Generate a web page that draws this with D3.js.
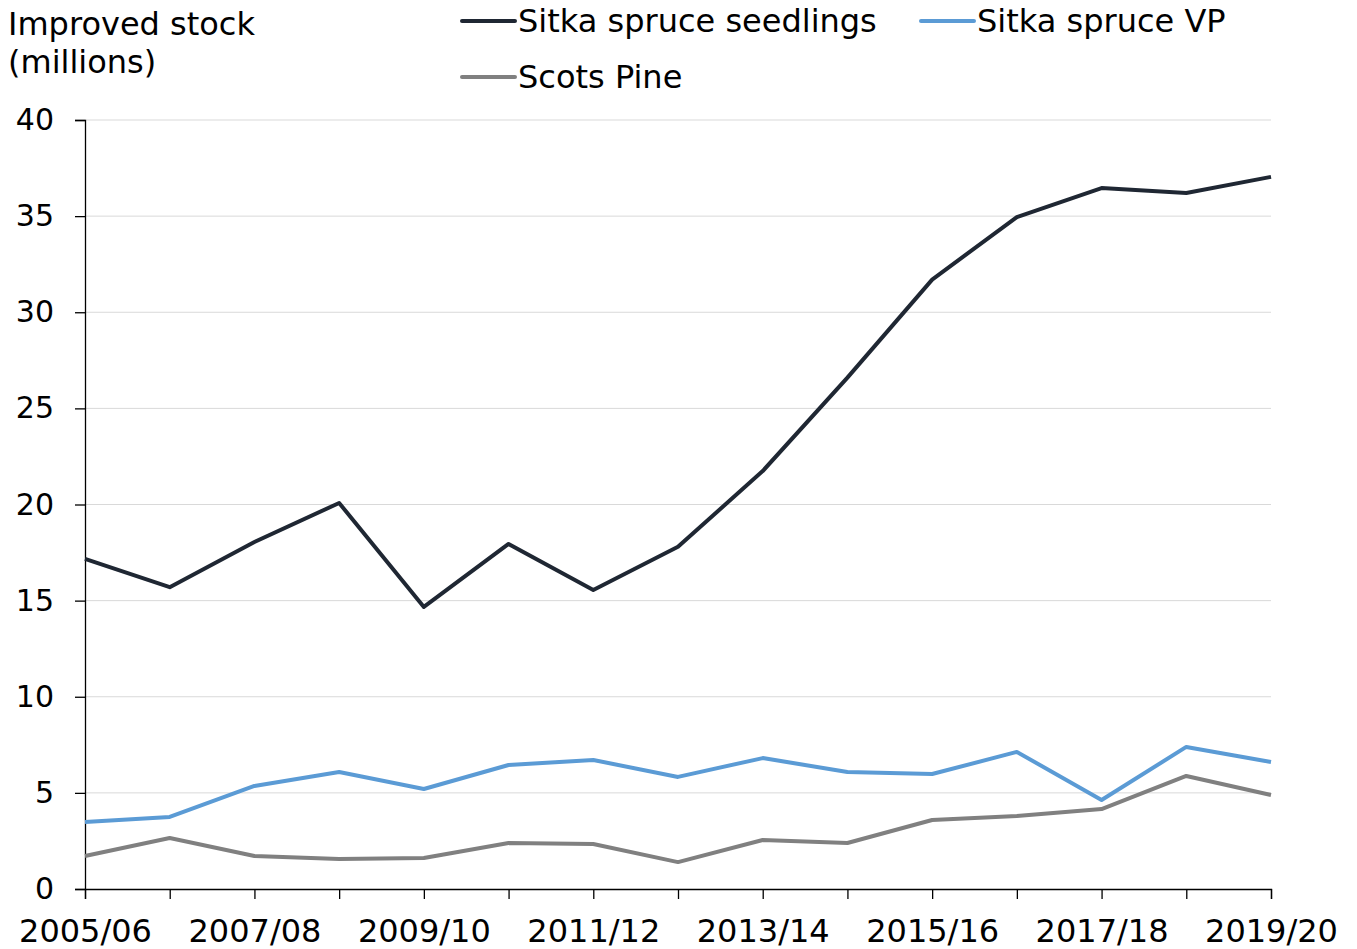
<!DOCTYPE html>
<html>
<head>
<meta charset="utf-8">
<script src="https://cdn.jsdelivr.net/npm/d3@7"></script>
<style>
    body { margin: 0; background: #fff; }
    svg text { font-family: "DejaVu Sans", Verdana, sans-serif; fill: #000; }
</style>
</head>
<body>
<div id="chart"></div>
<script>
let years = ['2005/06', '2006/07', '2007/08', '2008/09', '2009/10', '2010/11', '2011/12', '2012/13',
             '2013/14', '2014/15', '2015/16', '2016/17', '2017/18', '2018/19', '2019/20'],
    seedlings = [17.17, 15.7, 18.05, 20.08, 14.67, 17.95, 15.55, 17.8, 21.74, 26.6, 31.7, 34.95, 36.46, 36.2, 37.04],
    vp = [3.49, 3.75, 5.36, 6.09, 5.2, 6.45, 6.71, 5.83, 6.81, 6.09, 5.98, 7.13, 4.63, 7.39, 6.61],
    scotsPine = [1.72, 2.65, 1.72, 1.56, 1.61, 2.39, 2.34, 1.4, 2.55, 2.39, 3.59, 3.8, 4.16, 5.88, 4.89],
    yTicks = [0, 5, 10, 15, 20, 25, 30, 35, 40],
    xLabels = ['2005/06', '2007/08', '2009/10', '2011/12', '2013/14', '2015/16', '2017/18', '2019/20'];

const series = [
    { name: 'Sitka spruce seedlings', values: seedlings, color: '#1f2733' },
    { name: 'Sitka spruce VP', values: vp, color: '#5b9bd5' },
    { name: 'Scots Pine', values: scotsPine, color: '#808080' }
];

const width = 1357,
    height = 949,
    plotLeft = 85,
    plotRight = 1271,
    plotTop = 120,
    plotBottom = 889;

const svg = d3.select('#chart')
    .append('svg')
    .attr('width', width)
    .attr('height', height);

// Scales
const xScale = d3.scalePoint()
    .domain(years)
    .range([plotLeft, plotRight]);

const yScale = d3.scaleLinear()
    .domain([0, 40])
    .range([plotBottom, plotTop]);

// Gridlines
svg.append('g')
    .selectAll('line')
    .data(yTicks.filter(d => d > 0))
    .enter()
    .append('line')
    .attr('x1', plotLeft)
    .attr('x2', plotRight)
    .attr('y1', d => yScale(d))
    .attr('y2', d => yScale(d))
    .attr('stroke', '#d9d9d9')
    .attr('stroke-width', 1);

// Axes
const yAxis = d3.axisLeft(yScale)
    .tickValues(yTicks)
    .tickSize(10)
    .tickPadding(21);

const yG = svg.append('g')
    .attr('transform', 'translate(' + plotLeft + ',0)')
    .call(yAxis);
yG.selectAll('text').style('font-size', '30px');
yG.selectAll('path, line').attr('stroke', '#000').attr('stroke-width', 1.3);

const xAxis = d3.axisBottom(xScale)
    .tickSize(10)
    .tickPadding(20)
    .tickFormat(d => xLabels.includes(d) ? d : '');

const xG = svg.append('g')
    .attr('transform', 'translate(0,' + plotBottom + ')')
    .call(xAxis);
xG.selectAll('text').style('font-size', '32px').attr('dy', '0.71em');
xG.selectAll('path, line').attr('stroke', '#000').attr('stroke-width', 1.3);

// Lines
const line = d3.line()
    .x((d, i) => xScale(years[i]))
    .y(d => yScale(d));

svg.append('g')
    .selectAll('path')
    .data(series)
    .enter()
    .append('path')
    .attr('d', d => line(d.values))
    .attr('fill', 'none')
    .attr('stroke', d => d.color)
    .attr('stroke-width', 4)
    .attr('stroke-linejoin', 'round');

// Title
svg.append('text')
    .attr('x', 8)
    .attr('y', 35)
    .style('font-size', '32px')
    .text('Improved stock');
svg.append('text')
    .attr('x', 8)
    .attr('y', 73)
    .style('font-size', '32px')
    .text('(millions)');

// Legend
const legendPos = [[462, 21], [921, 21], [462, 77]];
const legend = svg.append('g')
    .selectAll('g')
    .data(series)
    .enter()
    .append('g')
    .attr('transform', (d, i) => 'translate(' + legendPos[i][0] + ',' + legendPos[i][1] + ')');

legend.append('line')
    .attr('x1', 0)
    .attr('x2', 53)
    .attr('stroke', d => d.color)
    .attr('stroke-width', 4)
    .attr('stroke-linecap', 'round');

legend.append('text')
    .attr('x', 56)
    .attr('dy', '0.35em')
    .style('font-size', '32px')
    .text(d => d.name);
</script>
</body>
</html>
